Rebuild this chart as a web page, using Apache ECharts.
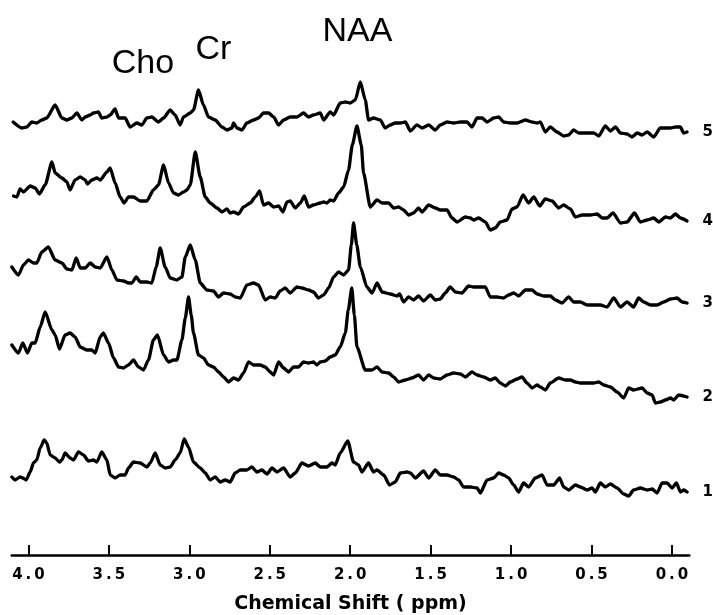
<!DOCTYPE html>
<html>
<head>
<meta charset="utf-8">
<script src="https://cdn.jsdelivr.net/npm/echarts@6/dist/echarts.min.js"></script>
<style>html,body{margin:0;padding:0;background:#fff}#c{width:713px;height:615px}</style>
</head>
<body>
<div id="c"></div>
<script>
// ---- data (chemical shift in ppm, signal intensity in arbitrary units) ----
var traceNames = ['1', '2', '3', '4', '5'];
var peakNames = ['Cho', 'Cr', 'NAA'];
var tickValues = [0, 0.5, 1, 1.5, 2, 2.5, 3, 3.5, 4];

var ppm5 = [4.095,4.041,4.010,3.979,3.948,3.917,3.886,3.834,3.792,3.761,3.730,3.699,3.668,3.647,3.616,3.596,3.565,3.544,3.512,3.492,3.461,3.440,3.399,3.368,3.326,3.295,3.264,3.233,3.192,3.160,3.119,3.088,3.057,3.036,2.994,2.974,2.943,2.912,2.881,2.839,2.797,2.766,2.735,2.725,2.704,2.673,2.642,2.601,2.570,2.539,2.507,2.476,2.445,2.414,2.373,2.331,2.290,2.259,2.228,2.186,2.165,2.124,2.103,2.062,2.030,1.999,1.968,1.937,1.906,1.886,1.855,1.813,1.782,1.751,1.720,1.688,1.657,1.626,1.585,1.553,1.512,1.471,1.440,1.398,1.357,1.315,1.274,1.243,1.211,1.180,1.149,1.108,1.077,1.046,1.004,0.963,0.911,0.870,0.838,0.818,0.787,0.756,0.714,0.673,0.642,0.611,0.580,0.527,0.486,0.455,0.414,0.382,0.351,0.320,0.279,0.248,0.216,0.185,0.154,0.113,0.072,0.040,0.009,-0.022,-0.053,-0.073,-0.094];
var sig5 = [18,12,13,18,17,20,22,35,22,20,22,27,20,23,25,27,28,22,23,25,31,22,22,13,17,15,22,23,18,22,30,25,15,23,27,30,50,35,23,20,13,10,12,17,12,10,17,20,22,27,27,23,15,20,23,23,27,23,25,27,20,28,25,37,38,37,40,58,40,20,22,20,12,15,17,17,18,9,15,12,15,10,15,18,17,18,18,13,22,22,18,22,23,18,17,17,20,18,17,18,8,13,8,4,5,10,7,7,7,4,14,9,13,7,6,3,7,5,8,3,12,12,12,13,13,7,8];

var ppm4 = [4.093,4.072,4.052,4.031,3.989,3.958,3.932,3.896,3.854,3.834,3.792,3.761,3.741,3.710,3.678,3.647,3.633,3.606,3.575,3.554,3.512,3.492,3.461,3.430,3.405,3.378,3.347,3.305,3.264,3.223,3.192,3.160,3.129,3.098,3.067,3.036,3.015,2.994,2.963,2.932,2.901,2.870,2.828,2.797,2.766,2.746,2.725,2.694,2.663,2.621,2.590,2.563,2.539,2.507,2.476,2.445,2.418,2.393,2.373,2.341,2.310,2.285,2.259,2.228,2.186,2.165,2.144,2.124,2.103,2.072,2.041,2.010,1.987,1.958,1.931,1.917,1.875,1.833,1.802,1.761,1.730,1.699,1.668,1.637,1.606,1.575,1.553,1.512,1.471,1.440,1.398,1.367,1.336,1.284,1.253,1.233,1.201,1.160,1.129,1.098,1.067,1.025,0.994,0.963,0.925,0.891,0.859,0.822,0.787,0.745,0.704,0.673,0.631,0.600,0.558,0.507,0.465,0.434,0.403,0.366,0.320,0.279,0.233,0.196,0.154,0.113,0.082,0.040,0.009,-0.022,-0.053,-0.094];
var sig4 = [39,38,46,43,49,47,41,50,73,62,57,53,45,55,58,55,51,55,57,55,63,67,52,38,32,38,38,34,34,45,50,70,52,42,40,43,45,50,83,58,38,32,27,23,26,22,23,21,28,32,38,44,30,32,28,29,23,33,34,27,32,39,28,30,32,33,32,35,34,42,48,65,90,109,90,62,28,35,32,32,27,28,25,20,22,27,23,30,27,25,25,17,13,18,17,15,17,13,5,7,13,15,26,28,40,32,38,29,36,34,27,30,26,18,20,20,21,17,17,22,12,13,22,13,15,17,13,18,17,21,17,14];

var ppm3 = [4.103,4.062,4.031,4.000,3.969,3.948,3.917,3.876,3.834,3.792,3.761,3.730,3.703,3.678,3.647,3.616,3.585,3.554,3.512,3.481,3.450,3.409,3.378,3.357,3.330,3.305,3.264,3.233,3.206,3.181,3.150,3.119,3.077,3.046,3.025,2.994,2.963,2.932,2.891,2.850,2.818,2.787,2.746,2.715,2.683,2.642,2.601,2.570,2.528,2.497,2.466,2.435,2.404,2.373,2.331,2.300,2.259,2.228,2.197,2.165,2.134,2.103,2.072,2.041,2.010,1.993,1.979,1.959,1.937,1.896,1.864,1.833,1.802,1.751,1.709,1.693,1.668,1.637,1.606,1.575,1.544,1.502,1.471,1.440,1.409,1.378,1.346,1.305,1.264,1.233,1.191,1.160,1.129,1.087,1.046,1.015,0.984,0.953,0.911,0.870,0.838,0.797,0.756,0.724,0.683,0.642,0.611,0.569,0.527,0.486,0.445,0.403,0.362,0.320,0.279,0.238,0.207,0.175,0.134,0.092,0.051,0.009,-0.032,-0.063,-0.094];
var sig3 = [48,40,50,55,52,52,63,68,55,52,46,45,57,47,47,52,48,47,58,45,35,34,32,32,38,33,33,32,48,67,48,37,35,38,58,70,55,32,25,24,18,22,21,18,17,30,32,30,15,18,17,24,27,22,28,27,25,23,17,20,27,38,43,40,45,70,92,70,48,28,22,32,23,21,19,21,13,18,15,19,14,20,15,16,22,28,23,22,29,28,28,28,18,18,17,20,22,19,25,25,21,19,19,15,12,18,13,13,10,10,10,8,17,8,13,8,17,13,10,10,13,16,17,13,12];

var ppm2 = [4.103,4.062,4.035,4.006,3.979,3.958,3.927,3.896,3.854,3.834,3.807,3.772,3.741,3.710,3.678,3.637,3.606,3.585,3.554,3.534,3.502,3.471,3.440,3.409,3.378,3.347,3.316,3.285,3.254,3.223,3.198,3.160,3.129,3.098,3.077,3.046,3.025,3.005,2.988,2.974,2.943,2.912,2.881,2.850,2.818,2.787,2.756,2.725,2.694,2.663,2.632,2.601,2.559,2.528,2.497,2.476,2.445,2.414,2.383,2.352,2.321,2.290,2.259,2.228,2.207,2.186,2.155,2.124,2.093,2.062,2.030,2.012,1.990,1.974,1.958,1.906,1.864,1.833,1.802,1.761,1.730,1.699,1.657,1.616,1.575,1.544,1.512,1.481,1.440,1.398,1.357,1.315,1.284,1.243,1.211,1.170,1.129,1.098,1.067,1.035,1.004,0.963,0.932,0.901,0.869,0.838,0.818,0.787,0.756,0.704,0.662,0.631,0.600,0.569,0.527,0.486,0.455,0.424,0.382,0.341,0.300,0.269,0.238,0.185,0.154,0.123,0.103,0.072,0.040,0.009,-0.011,-0.042,-0.094];
var sig2 = [60,52,62,52,62,62,78,93,75,70,56,70,72,68,58,55,55,52,68,72,62,47,38,37,40,45,38,35,45,65,70,50,43,45,45,65,87,108,90,72,50,47,40,38,33,28,23,27,25,32,43,40,40,38,33,30,43,37,33,38,38,43,42,43,40,43,44,48,50,58,72,95,117,90,58,35,35,38,33,32,28,23,25,27,30,25,30,27,26,30,32,31,28,33,30,28,25,27,22,19,23,26,28,22,17,20,18,15,22,27,25,25,23,22,22,22,23,20,18,13,7,17,15,17,12,10,2,3,5,7,5,10,8];

var ppm1 = [4.103,4.083,4.052,4.035,4.014,3.989,3.969,3.948,3.927,3.902,3.886,3.865,3.834,3.807,3.792,3.772,3.741,3.720,3.689,3.658,3.627,3.596,3.575,3.544,3.512,3.492,3.461,3.430,3.399,3.378,3.347,3.305,3.264,3.243,3.212,3.181,3.150,3.119,3.088,3.057,3.032,3.005,2.974,2.932,2.901,2.870,2.839,2.808,2.777,2.746,2.715,2.683,2.642,2.611,2.580,2.549,2.517,2.486,2.455,2.414,2.373,2.341,2.300,2.259,2.217,2.186,2.144,2.113,2.093,2.062,2.015,1.979,1.948,1.927,1.886,1.855,1.833,1.792,1.755,1.720,1.688,1.647,1.626,1.595,1.544,1.512,1.471,1.440,1.398,1.357,1.326,1.295,1.253,1.211,1.191,1.149,1.108,1.077,1.046,1.015,0.984,0.953,0.922,0.891,0.849,0.807,0.776,0.735,0.698,0.673,0.642,0.600,0.569,0.527,0.496,0.476,0.445,0.414,0.382,0.341,0.300,0.269,0.238,0.196,0.154,0.123,0.092,0.061,0.030,-0.001,-0.028,-0.053,-0.073,-0.094];
var sig1 = [18,15,18,17,15,23,32,35,47,55,52,40,37,33,35,42,37,35,43,40,34,35,33,43,35,20,17,20,20,27,33,32,28,32,42,30,27,28,35,42,56,48,33,27,22,15,18,13,15,13,22,25,25,28,23,25,21,27,23,27,18,22,32,29,32,28,28,32,30,42,54,33,30,23,32,23,25,20,10,13,22,23,22,17,24,17,25,20,20,18,15,8,8,7,2,15,17,22,20,17,10,3,12,8,17,20,10,10,17,8,5,10,8,5,7,3,12,8,11,7,1,-1,5,7,5,6,2,12,12,7,12,3,5,3];

// ---- layout ----
var ppmAll = [ppm1, ppm2, ppm3, ppm4, ppm5];
var sigAll = [sig1, sig2, sig3, sig4, sig5];
var baseY = [495, 405, 315, 235, 140];   // pixel baseline of each stacked trace
var GL = 11.7, GR = 23.7, XMIN = -0.108, XMAX = 4.104, H = 120;

function zip(a, b) {
  var out = [];
  for (var i = 0; i < Math.min(a.length, b.length); i++) out.push([a[i], b[i]]);
  return out;
}

var grids = [], xAxes = [], yAxes = [], series = [];
for (var k = 0; k < 5; k++) {
  grids.push({ left: GL, right: GR, top: baseY[k] - H, height: H });
  xAxes.push({ gridIndex: k, type: 'value', min: XMIN, max: XMAX, inverse: true, show: false });
  yAxes.push({ gridIndex: k, type: 'value', min: 0, max: H, show: false });
  var d = zip(ppmAll[k], sigAll[k]);
  var last = d[d.length - 1];
  series.push({
    type: 'line', xAxisIndex: k, yAxisIndex: k, data: d,
    showSymbol: false, clip: false, silent: true,
    smooth: 0.2, smoothMonotone: 'x',
    lineStyle: { color: '#000', width: 3.3, join: 'round', cap: 'round' },
    markPoint: {
      symbol: 'circle', symbolSize: 1, silent: true, animation: false,
      itemStyle: { color: 'rgba(0,0,0,0)' },
      label: { show: true, position: 'right', distance: 15, formatter: traceNames[k],
               color: '#000', fontFamily: 'DejaVu Sans', fontWeight: 'bold', fontSize: 15 },
      data: [{ coord: [last[0], last[1]] }]
    }
  });
}
// axis grid
grids.push({ left: GL, right: GR, top: 500, bottom: 58 });
xAxes.push({
  gridIndex: 5, type: 'value', min: XMIN, max: XMAX, inverse: true,
  name: 'Chemical Shift ( ppm)', nameLocation: 'middle', nameGap: 40,
  nameTextStyle: { color: '#000', fontFamily: 'DejaVu Sans', fontWeight: 'bold', fontSize: 19 },
  axisLine: { show: true, onZero: false, lineStyle: { color: '#000', width: 2.5 } },
  axisTick: { show: true, inside: true, length: 10, customValues: tickValues, lineStyle: { color: '#000', width: 2 } },
  axisLabel: { show: true, customValues: tickValues, margin: 13, color: '#000',
               fontFamily: 'DejaVu Sans', fontWeight: 'bold', fontSize: 15,
               formatter: function (v) { return v.toFixed(1).split('').join('\u2009'); } },
  splitLine: { show: false }
});
yAxes.push({ gridIndex: 5, type: 'value', min: 0, max: 1, show: false });

var peakLabelPos = [[143, 64], [213.5, 50], [357.5, 31.5]];
var graphics = peakNames.map(function (t, i) {
  return { type: 'text', silent: true, style: {
    text: t, x: peakLabelPos[i][0], y: peakLabelPos[i][1], fill: '#000',
    fontFamily: 'Liberation Sans', fontSize: 34,
    textAlign: 'center', textVerticalAlign: 'middle' } };
});

var chart = echarts.init(document.getElementById('c'), null, { renderer: 'canvas' });
chart.setOption({
  animation: false,
  backgroundColor: '#fff',
  grid: grids, xAxis: xAxes, yAxis: yAxes, series: series,
  graphic: graphics
});
</script>
</body>
</html>
